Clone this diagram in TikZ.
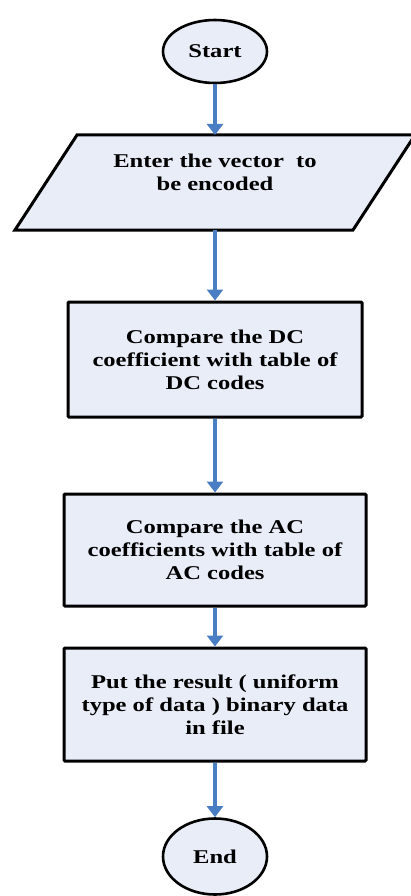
\documentclass[tikz,border=0pt]{standalone}
\usepackage{fontspec}
\setmainfont{Liberation Serif}[FakeStretch=1.26]
\usetikzlibrary{arrows.meta,shapes.geometric}

\definecolor{boxfill}{RGB}{233,237,247}
\definecolor{flowblue}{RGB}{74,126,196}

\begin{document}
\begin{tikzpicture}[x=1pt,y=-1pt,
  every node/.style={font=\fontsize{19.5}{23}\selectfont\bfseries, align=center},
  terminal/.style={ellipse, draw, line width=2.6pt, fill=boxfill, inner sep=0pt},
  procbox/.style={draw, line width=3pt, fill=boxfill, rounded corners=1pt, inner sep=0pt},
  iobox/.style={draw, line width=3pt, fill=boxfill, line join=miter},
  flow/.style={draw=flowblue, line width=3.4pt, -{Triangle[width=16pt,length=11pt]}}
]
\useasboundingbox (0,0) rectangle (411,896);
\fill[white] (0,0) rectangle (411,896);

% terminals
\node[terminal, minimum width=104pt, minimum height=63pt] (start) at (215,51.5) {Start};
\node[terminal, minimum width=104pt, minimum height=76pt] (end) at (215,856.5) {End};

% input parallelogram
\draw[iobox] (77,135) -- (415,135) -- (353,230) -- (15,230) -- cycle;
\node[minimum width=300pt, minimum height=95pt, inner sep=0pt, outer sep=0pt] (enter) at (215,182.5) {};
\node (entertext) at (215,172) {Enter the vector\ \ to\\be encoded};

% process steps
\node[procbox, minimum width=294pt, minimum height=115pt] (dc) at (215,359.5)
  {Compare the DC\\coefficient with table of\\DC codes};
\node[procbox, minimum width=302pt, minimum height=112pt] (ac) at (215,550)
  {Compare the AC\\coefficients with table of\\AC codes};
\node[procbox, minimum width=302pt, minimum height=113pt] (put) at (215,704.5)
  {Put the result ( uniform\\type of data ) binary data\\in file};

% connectors
\draw[flow] (start) -- (enter.north);
\draw[flow] (enter.south) -- (dc);
\draw[flow] (dc) -- (ac);
\draw[flow] (ac) -- (put);
\draw[flow] (put) -- (end);
\end{tikzpicture}
\end{document}
